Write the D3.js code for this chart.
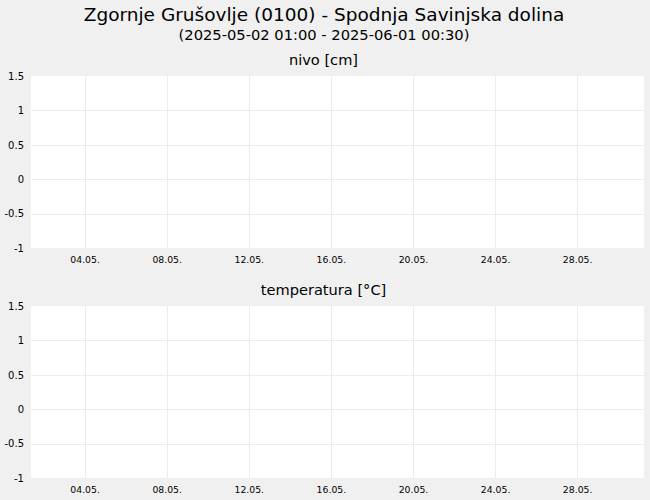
<!DOCTYPE html>
<html>
<head>
<meta charset="utf-8">
<script src="https://cdn.jsdelivr.net/npm/d3@7"></script>
<style>
  body { margin: 0; background: #f0f0f0; }
  svg { display: block; font-family: "DejaVu Sans", sans-serif; }
</style>
</head>
<body>
<div id="chart"></div>
<script>
var title = "Zgornje Grušovlje (0100) - Spodnja Savinjska dolina";
var subtitle = "(2025-05-02 01:00 - 2025-06-01 00:30)";
var panelTitles = ["nivo [cm]", "temperatura [°C]"];
var yTicks = [-1, -0.5, 0, 0.5, 1, 1.5];
var xTickDates = ["2025-05-04", "2025-05-08", "2025-05-12", "2025-05-16", "2025-05-20", "2025-05-24", "2025-05-28"];
var xDomain = ["2025-05-01 09:20", "2025-05-31 06:10"];

var width = 650;
var height = 500;
var left = 31, right = 644;
var panelTops = [76, 306];
var panelHeight = 172;

var parseTime = d3.timeParse("%Y-%m-%d %H:%M");
var parseDay = d3.timeParse("%Y-%m-%d");

var svg = d3.select("#chart").append("svg")
    .attr("width", width)
    .attr("height", height);

svg.append("rect")
    .attr("width", width)
    .attr("height", height)
    .attr("fill", "#f0f0f0");

svg.append("text")
    .attr("x", 324)
    .attr("y", 21)
    .attr("text-anchor", "middle")
    .attr("font-size", "18.5px")
    .attr("fill", "#000")
    .text(title);

svg.append("text")
    .attr("x", 324)
    .attr("y", 40)
    .attr("text-anchor", "middle")
    .attr("font-size", "14.7px")
    .attr("fill", "#000")
    .text(subtitle);

var xScale = d3.scaleTime()
    .domain(xDomain.map(parseTime))
    .range([left, right]);

var xTicks = xTickDates.map(parseDay);

panelTops.forEach(function(top, i) {
    var yScale = d3.scaleLinear()
        .domain([-1, 1.5])
        .range([top + panelHeight, top]);

    svg.append("text")
        .attr("x", 323.5)
        .attr("y", top - 11)
        .attr("text-anchor", "middle")
        .attr("font-size", "14.6px")
        .attr("fill", "#000")
        .text(panelTitles[i]);

    var g = svg.append("g");

    g.append("rect")
        .attr("x", left)
        .attr("y", top)
        .attr("width", right - left)
        .attr("height", panelHeight)
        .attr("fill", "#fff");

    // grid
    g.selectAll(".hgrid")
        .data(yTicks.filter(d => d > -1 && d < 1.5)).enter()
        .append("line")
        .attr("x1", left)
        .attr("x2", right)
        .attr("y1", d => Math.round(yScale(d)) + 0.5)
        .attr("y2", d => Math.round(yScale(d)) + 0.5)
        .attr("stroke", "#ececec");

    g.selectAll(".vgrid")
        .data(xTicks).enter()
        .append("line")
        .attr("x1", d => Math.round(xScale(d)) + 0.5)
        .attr("x2", d => Math.round(xScale(d)) + 0.5)
        .attr("y1", top)
        .attr("y2", top + panelHeight)
        .attr("stroke", "#ececec");

    // axes
    var yAxis = d3.axisLeft(yScale)
        .tickValues(yTicks)
        .tickSize(0)
        .tickPadding(7)
        .tickFormat(d => String(d));

    svg.append("g")
        .attr("transform", `translate(${left}, 0)`)
        .call(yAxis)
        .call(a => a.select(".domain").remove())
        .selectAll("text")
        .attr("font-family", "DejaVu Sans, sans-serif")
        .attr("font-size", "10px")
        .attr("fill", "#000");

    var xAxis = d3.axisBottom(xScale)
        .tickValues(xTicks)
        .tickSize(0)
        .tickPadding(8)
        .tickFormat(d3.timeFormat("%d.%m."));

    svg.append("g")
        .attr("transform", `translate(0, ${top + panelHeight})`)
        .call(xAxis)
        .call(a => a.select(".domain").remove())
        .selectAll("text")
        .attr("font-family", "DejaVu Sans, sans-serif")
        .attr("font-size", "9.3px")
        .attr("fill", "#000");
});
</script>
</body>
</html>
